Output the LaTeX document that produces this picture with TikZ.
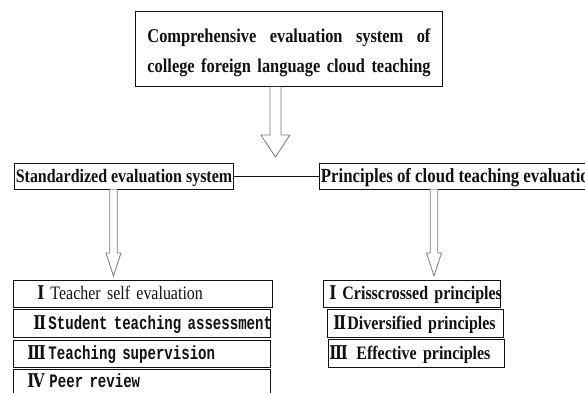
\documentclass[tikz,border=0pt]{standalone}
\usepackage{fontspec}
\usetikzlibrary{calc,positioning}
\newfontfamily\condserif[FakeStretch=0.84]{Liberation Serif}
\newfontfamily\condmono[FakeStretch=0.74]{Liberation Mono}
\newfontfamily\numserif[FakeStretch=0.8]{DejaVu Serif}
\definecolor{ink}{HTML}{111111}
\definecolor{arrowLine}{HTML}{7A7A7A}
\tikzset{
  every node/.append style = {text=ink},
  % --- boxes --------------------------------------------------------------
  titlebox/.style = {draw=ink, fill=white, line width=0.9pt,
                     inner xsep=12pt, inner ysep=0pt, minimum height=75pt,
                     text width=283pt, align=left,
                     font=\condserif\bfseries\fontsize{19.5}{30}\selectfont},
  headbox/.style  = {draw=ink, fill=white, line width=0.9pt,
                     inner xsep=1.5pt, inner ysep=0pt, minimum height=26pt,
                     text height=12pt, text depth=0pt,
                     font=\condserif\bfseries\fontsize{19}{22}\selectfont},
  itembox/.style  = {draw=ink, fill=white, line width=0.9pt, inner sep=0pt,
                     anchor=north west, align=left,
                     text height=12pt, text depth=0pt,
                     font=\condserif\bfseries\fontsize{19}{22}\selectfont},
  % --- relations ----------------------------------------------------------
  link/.style     = {draw=ink, line width=0.9pt},
  hollow/.style   = {draw=arrowLine, fill=white, line width=0.8pt, line join=miter},
}
% hollow block arrow: tail, tip, shaft half width, head half width, head length
\newcommand{\blockarrow}[5]{%
  \draw[hollow] ($(#1)+(-#3,0)$) -- ($(#2)+(-#3,-#5)$) -- ($(#2)+(-#4,-#5)$) -- (#2)
     -- ($(#2)+(#4,-#5)$) -- ($(#2)+(#3,-#5)$) -- ($(#1)+(#3,0)$);}

\begin{document}
\begin{tikzpicture}[x=1pt, y=-1pt]
\useasboundingbox (0,0) rectangle (585,392);
\fill[white] (0,0) rectangle (585,392);
\clip (0,0) rectangle (585,392);

% ==================== top: whole system ====================================
\node[titlebox, anchor=north west] (top) at (135,11)
     {\hbox to 283pt{\rule{0pt}{21pt}Comprehensive\hfill evaluation\hfill system\hfill of}\\
      \mbox{college foreign language cloud teaching}};

% ==================== middle: two branches =================================
\node[headbox] (stdsys) at (124,176) {Standardized evaluation system};
\node[headbox, anchor=west, font=\condserif\bfseries\fontsize{20}{22}\selectfont]
     (princ) at (319,176) {Principles of cloud teaching evaluation};
\draw[link] (stdsys.east) -- (princ.west);

% arrows down
\coordinate (topTail) at ([xshift=-13.5pt]top.south);
\coordinate (topTip)  at (topTail |- 0,157);
\blockarrow{topTail}{topTip}{5.5}{14.5}{22}

\coordinate (stdTail) at ([xshift=-10.5pt]stdsys.south);
\coordinate (stdTip)  at (stdTail |- 0,276);
\blockarrow{stdTail}{stdTip}{3.8}{7.5}{23}

\coordinate (prTail) at (434,0 |- princ.south);
\coordinate (prTip)  at (prTail |- 0,276);
\blockarrow{prTail}{prTip}{3.8}{7.5}{23}

% ==================== bottom: item lists ===================================
% name / x / y / width / height / numeral indent / text indent / numeral / text
\foreach \nm/\x/\y/\w/\h/\a/\b/\num/\txt in {%
  ls1/13/280/259/27/24/13/{Ⅰ}/{\mdseries Teacher self evaluation},
  ls2/13/309/257/28/20/15/{Ⅱ}/{\condmono\bfseries Student teaching assessment},
  ls3/13/340/257/27/14/21/{Ⅲ}/{\condmono\bfseries Teaching supervision},
  ls4/13/369/257/24/14/22/{Ⅳ}/{\condmono\bfseries Peer review},
  pr1/323/280/177/27/6/13/{Ⅰ}/{Crisscrossed principles},
  pr2/327/309/176/28/6/14/{Ⅱ}/{Diversified principles},
  pr3/328/339/176/28/1/27/{Ⅲ}/{Effective principles}}{
  \node[itembox, text width=\w pt, minimum height=\h pt] (\nm) at (\x,\y)
       {\hspace*{\a pt}\rlap{\numserif\num}\hspace*{\b pt}\mbox{\txt}};}

\end{tikzpicture}
\end{document}
